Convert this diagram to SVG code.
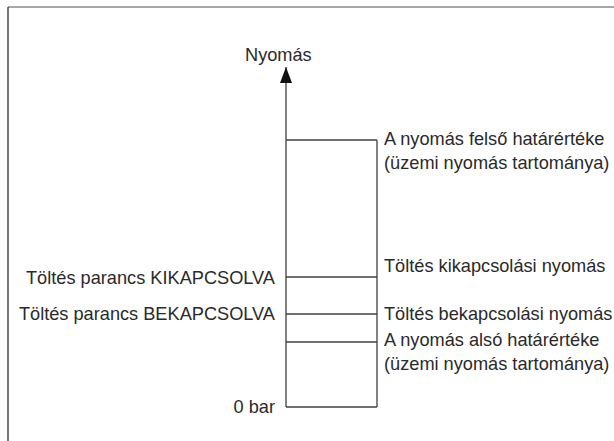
<svg xmlns="http://www.w3.org/2000/svg" width="614" height="441" viewBox="0 0 614 441">
  <defs>
    <style>
      text { font-family: "Liberation Sans", Arial, sans-serif; font-size: 18.2px; fill: #2a2a2a; }
      .end { text-anchor: end; }
      .ln { stroke: #404040; stroke-width: 1.3; fill: none; }
    </style>
    <marker id="arrowhead" markerUnits="userSpaceOnUse" markerWidth="16" markerHeight="12" refX="16" refY="6" orient="auto">
      <path d="M0,0 L16,6 L0,12 Z" fill="#111"/>
    </marker>
  </defs>

  <!-- page frame -->
  <g id="frame">
    <line x1="8" y1="7" x2="614" y2="7" stroke="#8a8a8a" stroke-width="1.6"/>
    <line x1="8" y1="7" x2="8" y2="441" stroke="#1a1a1a" stroke-width="1.2"/>
  </g>

  <!-- pressure axis and level lines -->
  <g id="connectors">
    <line class="ln" x1="286" y1="407" x2="286" y2="67" marker-end="url(#arrowhead)"/>
    <line class="ln" x1="377" y1="140" x2="377" y2="407"/>
    <line class="ln" x1="286" y1="140" x2="377" y2="140"/>
    <line class="ln" x1="286" y1="277" x2="377" y2="277"/>
    <line class="ln" x1="286" y1="314" x2="377" y2="314"/>
    <line class="ln" x1="286" y1="342" x2="377" y2="342"/>
    <line class="ln" x1="286" y1="407" x2="377" y2="407"/>
  </g>

  <g id="axis-title">
    <text x="245" y="61">Nyomás</text>
  </g>

  <g id="upper-limit">
    <text x="384" y="145">A nyomás felső határértéke</text>
    <text x="384" y="169">(üzemi nyomás tartománya)</text>
  </g>

  <g id="cut-out-pressure">
    <text x="384" y="272">Töltés kikapcsolási nyomás</text>
  </g>

  <g id="cut-in-pressure">
    <text x="384" y="320">Töltés bekapcsolási nyomás</text>
  </g>

  <g id="lower-limit">
    <text x="384" y="346">A nyomás alsó határértéke</text>
    <text x="384" y="370">(üzemi nyomás tartománya)</text>
  </g>

  <g id="charge-off">
    <text class="end" x="275" y="284">Töltés parancs KIKAPCSOLVA</text>
  </g>

  <g id="charge-on">
    <text class="end" x="275" y="320">Töltés parancs BEKAPCSOLVA</text>
  </g>

  <g id="zero">
    <text class="end" x="275" y="413">0 bar</text>
  </g>
</svg>
